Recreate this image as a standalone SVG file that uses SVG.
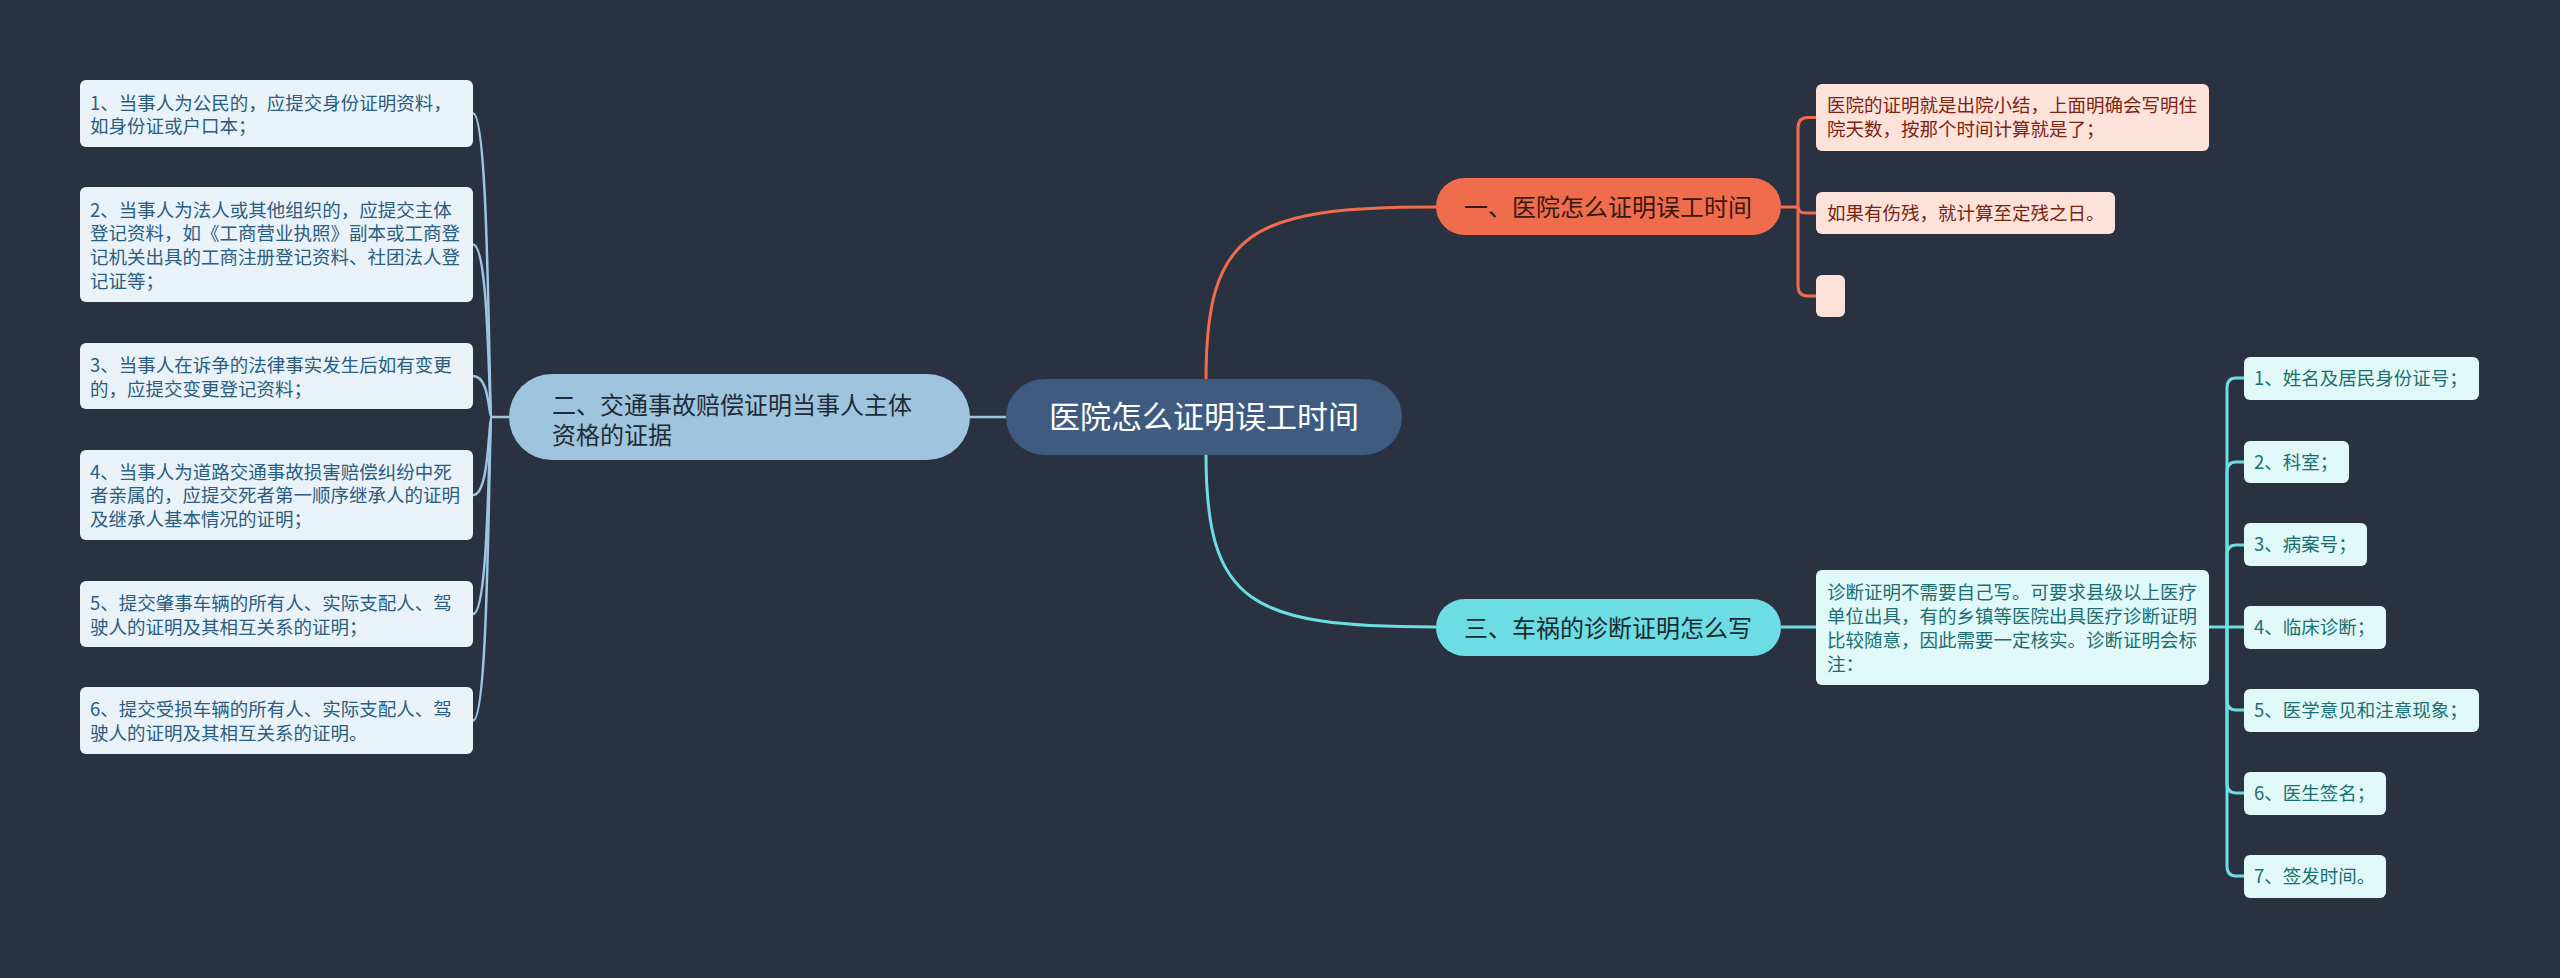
<svg xmlns="http://www.w3.org/2000/svg" width="2560" height="978" viewBox="0 0 2560 978">
<style>
text{font-family:"Noto Sans CJK SC","Noto Sans",sans-serif;}
.bg{fill:#2a3242;}
.c-blue{fill:none;stroke:#9fc5de;stroke-width:2.5;}
.c-org{fill:none;stroke:#ef6d4d;stroke-width:3;}
.c-cyan{fill:none;stroke:#6bdde3;stroke-width:3;}
.root{fill:#3f5b7f;}
.root-t{fill:#ffffff;font-size:31px;}
.b2{fill:#9fc5de;}
.b2-t{fill:#1f2b38;font-size:24px;}
.l2{fill:#e9f2f8;}
.l2-t{fill:#2b5d7e;font-size:18.5px;}
.b1{fill:#ef6d4d;}
.b1-t{fill:#3a1810;font-size:24px;}
.l1{fill:#fde2da;}
.l1-t{fill:#7a2514;font-size:18.5px;}
.b3{fill:#6bdde3;}
.b3-t{fill:#1b2a30;font-size:24px;}
.l3{fill:#e1f8f8;}
.l3-t{fill:#1b6f72;font-size:18.5px;}
</style>
<rect class="bg" x="0" y="0" width="2560" height="978"/>

<g id="connectors">
  <!-- root to main branches -->
  <path class="c-blue" d="M1006 417 H970"/>
  <path class="c-org" d="M1206 380 C1206 230 1250 207 1436 207"/>
  <path class="c-cyan" d="M1206 454 C1206 604 1250 627 1436 627"/>
  <!-- left branch -->
  <path class="c-blue" d="M509 417 H492"/>
  <path class="c-blue" d="M492 417 C488 417 490 113.5 473 113.5"/>
  <path class="c-blue" d="M492 417 C488 417 490 244.5 473 244.5"/>
  <path class="c-blue" d="M492 417 C488 417 490 376 473 376"/>
  <path class="c-blue" d="M492 417 C488 417 490 495 473 495"/>
  <path class="c-blue" d="M492 417 C488 417 490 614 473 614"/>
  <path class="c-blue" d="M492 417 C488 417 490 720.5 473 720.5"/>
  <!-- branch 1 -->
  <path class="c-org" d="M1781 207 H1798"/>
  <path class="c-org" d="M1798 207 V128 Q1798 117.5 1808 117.5 H1816"/>
  <path class="c-org" d="M1798 207 Q1798 213 1806 213 H1816"/>
  <path class="c-org" d="M1798 207 V286 Q1798 296 1808 296 H1816"/>
  <!-- branch 3 -->
  <path class="c-cyan" d="M1781 627 H1816"/>
  <path class="c-cyan" d="M2209 627 H2227"/>
  <path class="c-cyan" d="M2227 627 V388 Q2227 378 2236 378 H2244"/>
  <path class="c-cyan" d="M2227 627 V472 Q2227 462 2236 462 H2244"/>
  <path class="c-cyan" d="M2227 627 V555 Q2227 545 2236 545 H2244"/>
  <path class="c-cyan" d="M2227 627 H2244"/>
  <path class="c-cyan" d="M2227 627 V700 Q2227 710 2236 710 H2244"/>
  <path class="c-cyan" d="M2227 627 V783 Q2227 793 2236 793 H2244"/>
  <path class="c-cyan" d="M2227 627 V866 Q2227 876 2236 876 H2244"/>
</g>

<g id="root">
  <rect class="root" x="1006" y="379" width="396" height="76" rx="38"/>
  <text class="root-t" x="1204" y="428" text-anchor="middle">医院怎么证明误工时间</text>
</g>

<g id="branch2">
  <rect class="b2" x="509" y="374" width="461" height="86" rx="43"/>
  <text class="b2-t" x="552" y="414">二、交通事故赔偿证明当事人主体</text>
  <text class="b2-t" x="552" y="444">资格的证据</text>
</g>
<g id="b2-item1">
  <rect class="l2" x="80" y="80" width="393" height="67" rx="6"/>
  <text class="l2-t" x="90" y="109.5">1、当事人为公民的，应提交身份证明资料，</text>
  <text class="l2-t" x="90" y="133.2">如身份证或户口本；</text>
</g>
<g id="b2-item2">
  <rect class="l2" x="80" y="187" width="393" height="115" rx="6"/>
  <text class="l2-t" x="90" y="216.6">2、当事人为法人或其他组织的，应提交主体</text>
  <text class="l2-t" x="90" y="240.3">登记资料，如《工商营业执照》副本或工商登</text>
  <text class="l2-t" x="90" y="264">记机关出具的工商注册登记资料、社团法人登</text>
  <text class="l2-t" x="90" y="287.7">记证等；</text>
</g>
<g id="b2-item3">
  <rect class="l2" x="80" y="343" width="393" height="66" rx="6"/>
  <text class="l2-t" x="90" y="371.8">3、当事人在诉争的法律事实发生后如有变更</text>
  <text class="l2-t" x="90" y="395.5">的，应提交变更登记资料；</text>
</g>
<g id="b2-item4">
  <rect class="l2" x="80" y="450" width="393" height="90" rx="6"/>
  <text class="l2-t" x="90" y="478.5">4、当事人为道路交通事故损害赔偿纠纷中死</text>
  <text class="l2-t" x="90" y="502.2">者亲属的，应提交死者第一顺序继承人的证明</text>
  <text class="l2-t" x="90" y="525.9">及继承人基本情况的证明；</text>
</g>
<g id="b2-item5">
  <rect class="l2" x="80" y="581" width="393" height="66" rx="6"/>
  <text class="l2-t" x="90" y="609.8">5、提交肇事车辆的所有人、实际支配人、驾</text>
  <text class="l2-t" x="90" y="633.5">驶人的证明及其相互关系的证明；</text>
</g>
<g id="b2-item6">
  <rect class="l2" x="80" y="687" width="393" height="67" rx="6"/>
  <text class="l2-t" x="90" y="716.3">6、提交受损车辆的所有人、实际支配人、驾</text>
  <text class="l2-t" x="90" y="740">驶人的证明及其相互关系的证明。</text>
</g>

<g id="branch1">
  <rect class="b1" x="1436" y="178" width="345" height="57" rx="28.5"/>
  <text class="b1-t" x="1464" y="215.6">一、医院怎么证明误工时间</text>
</g>
<g id="b1-item1">
  <rect class="l1" x="1816" y="84" width="393" height="67" rx="6"/>
  <text class="l1-t" x="1827" y="112.4">医院的证明就是出院小结，上面明确会写明住</text>
  <text class="l1-t" x="1827" y="136.1">院天数，按那个时间计算就是了；</text>
</g>
<g id="b1-item2">
  <rect class="l1" x="1816" y="192" width="299" height="42" rx="6"/>
  <text class="l1-t" x="1827" y="219.7">如果有伤残，就计算至定残之日。</text>
</g>
<g id="b1-item3">
  <rect class="l1" x="1816" y="275" width="29" height="42" rx="6"/>
</g>

<g id="branch3">
  <rect class="b3" x="1436" y="599" width="345" height="57" rx="28.5"/>
  <text class="b3-t" x="1464" y="636.6">三、车祸的诊断证明怎么写</text>
</g>
<g id="b3-item0">
  <rect class="l3" x="1816" y="570" width="393" height="115" rx="6"/>
  <text class="l3-t" x="1827" y="598.6">诊断证明不需要自己写。可要求县级以上医疗</text>
  <text class="l3-t" x="1827" y="622.6">单位出具，有的乡镇等医院出具医疗诊断证明</text>
  <text class="l3-t" x="1827" y="646.6">比较随意，因此需要一定核实。诊断证明会标</text>
  <text class="l3-t" x="1827" y="670.6">注：</text>
</g>
<g id="b3-item1">
  <rect class="l3" x="2244" y="357" width="235" height="43" rx="6"/>
  <text class="l3-t" x="2254" y="384.7">1、姓名及居民身份证号；</text>
</g>
<g id="b3-item2">
  <rect class="l3" x="2244" y="441" width="105" height="42" rx="6"/>
  <text class="l3-t" x="2254" y="468.7">2、科室；</text>
</g>
<g id="b3-item3">
  <rect class="l3" x="2244" y="523" width="123" height="43" rx="6"/>
  <text class="l3-t" x="2254" y="551.2">3、病案号；</text>
</g>
<g id="b3-item4">
  <rect class="l3" x="2244" y="606" width="142" height="43" rx="6"/>
  <text class="l3-t" x="2254" y="633.7">4、临床诊断；</text>
</g>
<g id="b3-item5">
  <rect class="l3" x="2244" y="689" width="235" height="43" rx="6"/>
  <text class="l3-t" x="2254" y="716.7">5、医学意见和注意现象；</text>
</g>
<g id="b3-item6">
  <rect class="l3" x="2244" y="772" width="142" height="43" rx="6"/>
  <text class="l3-t" x="2254" y="799.7">6、医生签名；</text>
</g>
<g id="b3-item7">
  <rect class="l3" x="2244" y="855" width="142" height="43" rx="6"/>
  <text class="l3-t" x="2254" y="882.7">7、签发时间。</text>
</g>
</svg>
